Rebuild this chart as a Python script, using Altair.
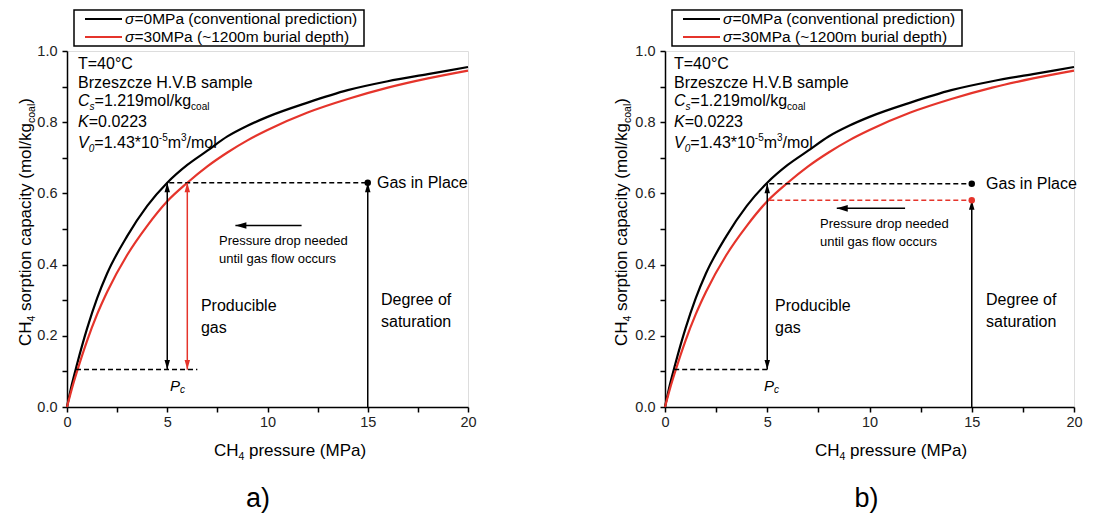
import altair as alt
import pandas as pd

# ---------------- values ----------------
pressure = [0, 0.25, 0.5, 1, 1.5, 2, 3, 4, 5, 6, 7, 8, 9, 10, 12, 14, 16, 18, 20]
sorption_0mpa = [0, 0.065, 0.12, 0.22, 0.305, 0.375, 0.48, 0.565, 0.63, 0.68, 0.72,
                 0.76, 0.79, 0.815, 0.855, 0.89, 0.915, 0.935, 0.955]
sorption_30mpa = [0, 0.053, 0.10, 0.186, 0.26, 0.323, 0.427, 0.509, 0.578, 0.63, 0.676,
                  0.715, 0.749, 0.778, 0.827, 0.865, 0.897, 0.923, 0.945]
series_names = ["σ=0MPa", "σ=30MPa"]
series_colors = ["#000000", "#e5342b"]

x_ticks = [0, 2.5, 5, 7.5, 10, 12.5, 15, 17.5, 20]
y_ticks = [0.0, 0.1, 0.2, 0.3, 0.4, 0.5, 0.6, 0.7, 0.8, 0.9, 1.0]

reservoir_p = 15
gip_a = 0.63
gip_b0 = 0.627
gip_b30 = 0.581
abandon_q = 0.105
pc_a = [5.0, 6.0]
pc_b = [5.0]

FONT = "Liberation Sans"
BLACK = series_colors[0]
RED = series_colors[1]
H = 356

curves = pd.DataFrame({
    "x": pressure + pressure,
    "y": sorption_0mpa + sorption_30mpa,
    "series": [series_names[0]] * len(pressure) + [series_names[1]] * len(pressure),
})
one = pd.DataFrame({"k": [0]})

xaxis = alt.Axis(values=x_ticks, labelExpr="datum.value % 5 == 0 ? datum.label : ''",
                 grid=False, ticks=True, tickSize=5, tickWidth=1.5, tickColor="black",
                 domainColor="black", domainWidth=1.5, labelFont=FONT, labelFontSize=14.5,
                 labelColor="#222", labelPadding=3, labelOverlap=False, labelFlush=False)
yaxis = alt.Axis(values=y_ticks,
                 labelExpr="round(datum.value*10) % 2 == 0 ? format(datum.value, '.1f') : ''",
                 grid=False, ticks=True, tickSize=5, tickWidth=1.5, tickColor="black",
                 domainColor="black", domainWidth=1.5, labelFont=FONT, labelFontSize=14.5,
                 labelColor="#222", labelPadding=5, labelOverlap=False, labelFlush=False)
xs = alt.Scale(domain=[0, 20], nice=False, zero=False)
ys = alt.Scale(domain=[0, 1], nice=False, zero=False)


def X(f="x"):
    return alt.X(f"{f}:Q", scale=xs, axis=xaxis, title=None)


def Y(f="y"):
    return alt.Y(f"{f}:Q", scale=ys, axis=yaxis, title=None)


UP = "M0,0L-1,3.5L1,3.5Z"
DOWN = "M0,0L-1,-3.5L1,-3.5Z"
LEFT = "M0,0L4,-1.2L4,1.2Z"


def ptext(text, x, y, size, italic=False, angle=0, align="left", baseline="alphabetic"):
    return alt.Chart(one).mark_text(
        text=text, font=FONT, fontSize=size, fontStyle="italic" if italic else "normal",
        angle=angle, align=align, baseline=baseline, color="black"
    ).encode(x=alt.value(x), y=alt.value(y))


def panel(width, dashed, vrules, heads, hrule, dots, big, small, pcx, label, label_x,
          inset_x, xt_x, yt_x):
    layers = []
    # curves
    layers.append(alt.Chart(curves).mark_line(strokeWidth=2.2, interpolate="monotone").encode(
        x=X(), y=Y(),
        color=alt.Color("series:N", scale=alt.Scale(domain=series_names, range=series_colors),
                        legend=None)))
    # dashed guides
    layers.append(alt.Chart(pd.DataFrame(dashed, columns=["x", "x2", "y", "c"])).mark_rule(
        strokeDash=[5, 3], strokeWidth=1.5).encode(
        x=X(), x2="x2:Q", y=Y(), color=alt.Color("c:N", scale=None)))
    # vertical arrows
    layers.append(alt.Chart(pd.DataFrame(vrules, columns=["x", "y", "y2", "c"])).mark_rule(
        strokeWidth=1.5).encode(x=X(), y=Y(), y2="y2:Q", color=alt.Color("c:N", scale=None)))
    # horizontal arrow
    layers.append(alt.Chart(pd.DataFrame([hrule], columns=["x", "x2", "y"])).mark_rule(
        strokeWidth=1.5, color="black").encode(x=X(), x2="x2:Q", y=Y()))
    # arrow heads
    layers.append(alt.Chart(pd.DataFrame(heads, columns=["x", "y", "c", "s"])).mark_point(
        filled=True, size=30, strokeWidth=0, opacity=1).encode(
        x=X(), y=Y(), color=alt.Color("c:N", scale=None), shape=alt.Shape("s:N", scale=None)))
    # dots
    layers.append(alt.Chart(pd.DataFrame(dots, columns=["x", "y", "c"])).mark_circle(
        size=42, opacity=1).encode(x=X(), y=Y(), color=alt.Color("c:N", scale=None)))
    # annotation texts
    layers.append(alt.Chart(pd.DataFrame(big, columns=["t", "x", "y"])).mark_text(
        font=FONT, fontSize=16, align="left", baseline="middle", color="black").encode(
        x=X(), y=Y(), text="t:N"))
    layers.append(alt.Chart(pd.DataFrame(small, columns=["t", "x", "y"])).mark_text(
        font=FONT, fontSize=13, align="left", baseline="middle", color="black").encode(
        x=X(), y=Y(), text="t:N"))
    # P_c
    pc = pd.DataFrame({"x": [pcx], "y": [0.058]})
    layers.append(alt.Chart(pc).mark_text(text="P", font=FONT, fontSize=15, fontStyle="italic",
                                          align="left", baseline="middle", color="black").encode(
        x=X(), y=Y()))
    layers.append(alt.Chart(pc).mark_text(text="c", font=FONT, fontSize=10, fontStyle="italic",
                                          align="left", baseline="middle", dx=10, dy=4,
                                          color="black").encode(x=X(), y=Y()))
    # legend box
    layers.append(alt.Chart(one).mark_rect(fill="white", stroke="black", strokeWidth=1.5).encode(
        x=alt.value(7), x2=alt.value(297), y=alt.value(-41), y2=alt.value(-5)))
    for yy, col, txt in [(-32, BLACK, "=0MPa (conventional prediction)"),
                         (-14, RED, "=30MPa (~1200m burial depth)")]:
        layers.append(alt.Chart(one).mark_rule(color=col, strokeWidth=2).encode(
            x=alt.value(18), x2=alt.value(55), y=alt.value(yy)))
        layers.append(ptext("σ", 58, yy, 15.5, italic=True, baseline="middle"))
        layers.append(ptext(txt, 67.5, yy, 15.5, baseline="middle"))
    # inset parameters
    ix = inset_x
    layers += [
        ptext("T=40°C", ix, 18, 16),
        ptext("Brzeszcze H.V.B sample", ix, 37, 16),
        ptext("C", ix, 55, 16, italic=True),
        ptext("s", ix + 11.6, 59, 10, italic=True),
        ptext("=1.219mol/kg", ix + 16.6, 55, 16),
        ptext("coal", ix + 113.1, 59, 10),
        ptext("K", ix, 76, 16, italic=True),
        ptext("=0.0223", ix + 10.7, 76, 16),
        ptext("V", ix, 97, 16, italic=True),
        ptext("0", ix + 10.7, 101, 10, italic=True),
        ptext("=1.43*10", ix + 16.3, 97, 16),
        ptext("-5", ix + 80.8, 90, 10),
        ptext("m", ix + 89.7, 97, 16),
        ptext("3", ix + 103, 90, 10),
        ptext("/mol", ix + 108.6, 97, 16),
    ]
    # x title
    layers += [
        ptext("CH", xt_x, H + 49, 17),
        ptext("4", xt_x + 24.5, H + 53, 10.5),
        ptext("pressure (MPa)", xt_x + 35, H + 49, 17),
    ]
    # y title (rotated)
    layers += [
        ptext("CH", yt_x, 295, 17, angle=270),
        ptext("4", yt_x + 4, 270.5, 10.5, angle=270),
        ptext("sorption capacity (mol/kg", yt_x, 260, 17, angle=270),
        ptext("coal", yt_x + 4, 72, 10.5, angle=270),
        ptext(")", yt_x, 52.7, 17, angle=270),
    ]
    # panel label
    layers.append(ptext(label, label_x, H + 100, 27, align="center"))
    return alt.layer(*layers).properties(width=width, height=H)


panel_a = panel(
    401,
    dashed=[(5.1, reservoir_p, gip_a, BLACK), (0.45, 6.5, abandon_q, BLACK)],
    vrules=[(pc_a[0], abandon_q, gip_a, BLACK), (pc_a[1], abandon_q, gip_a, RED),
            (reservoir_p, 0, gip_a, BLACK)],
    heads=[(pc_a[0], gip_a, BLACK, UP), (pc_a[0], abandon_q, BLACK, DOWN),
           (pc_a[1], gip_a, RED, UP), (pc_a[1], abandon_q, RED, DOWN),
           (reservoir_p, gip_a, BLACK, UP), (8.4, 0.51, BLACK, LEFT)],
    hrule=(8.4, 11.7, 0.51),
    dots=[(reservoir_p, gip_a, BLACK)],
    big=[("Gas in Place", 15.46, 0.63), ("Producible", 6.68, 0.283), ("gas", 6.68, 0.222),
         ("Degree of", 15.66, 0.30), ("saturation", 15.66, 0.239)],
    small=[("Pressure drop needed", 7.58, 0.466), ("until gas flow occurs", 7.58, 0.415)],
    pcx=5.14, label="a)", label_x=191, inset_x=11, xt_x=147, yt_x=-36,
)

panel_b = panel(
    409,
    dashed=[(5.1, reservoir_p, gip_b0, BLACK), (5.1, reservoir_p, gip_b30, RED),
            (0.45, 5.1, abandon_q, BLACK)],
    vrules=[(pc_b[0], abandon_q, gip_b0, BLACK), (reservoir_p, 0, gip_b30, BLACK)],
    heads=[(pc_b[0], gip_b0, BLACK, UP), (pc_b[0], abandon_q, BLACK, DOWN),
           (reservoir_p, gip_b30, BLACK, UP), (8.4, 0.558, BLACK, LEFT)],
    hrule=(8.4, 11.74, 0.558),
    dots=[(reservoir_p, gip_b0, BLACK), (reservoir_p, gip_b30, RED)],
    big=[("Gas in Place", 15.7, 0.626), ("Producible", 5.38, 0.283), ("gas", 5.38, 0.222),
         ("Degree of", 15.7, 0.30), ("saturation", 15.7, 0.239)],
    small=[("Pressure drop needed", 7.58, 0.513), ("until gas flow occurs", 7.58, 0.464)],
    pcx=4.84, label="b)", label_x=201.5, inset_x=9, xt_x=150, yt_x=-38,
)

chart = alt.hconcat(panel_a, panel_b, spacing=135).properties(
    padding={"left": 8, "top": 0, "right": 5, "bottom": 0}
).configure_view(stroke=None).configure(background="white")

chart.save("out.html", embed_options={"renderer": "svg", "actions": False})
